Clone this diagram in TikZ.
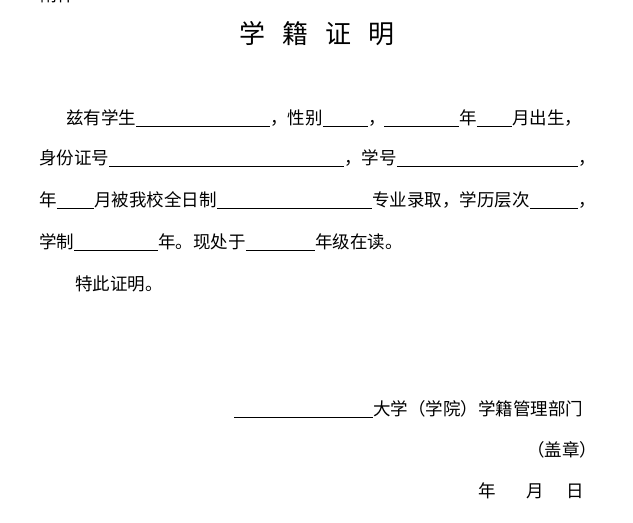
\documentclass[tikz,border=0pt]{standalone}
\usepackage{fontspec}
\newfontfamily\cjk{Noto Sans CJK SC}
\begin{document}
\begin{tikzpicture}[x=1pt,y=-1pt,
  txt/.style={anchor=base west,inner sep=0pt,font=\cjk\fontsize{17.5}{19}\selectfont},
  ul/.style={line width=0.8pt}]
\useasboundingbox (0,0) rectangle (633,523);
\node[txt] (att) at (40,1) {附件};
\node[inner sep=0pt,font=\cjk\fontsize{26}{28}\selectfont] (title) at (317,34) {学\hspace{0.65em}籍\hspace{0.65em}证\hspace{0.65em}明};
% line 1
\node[txt] (a1) at (66,124) {兹有学生};
\node[txt] (a2) at (270,124) {，性别};
\node[txt] (a3) at (368,124) {，};
\node[txt] (a4) at (459,124) {年};
\node[txt] (a5) at (512,124) {月出生，};
\draw[ul] (a1.base east) ++(0,2) -- (a2.base west |- 0,126);
\draw[ul] (a2.base east) ++(0,2) -- (a3.base west |- 0,126);
\draw[ul] (384,126) -- (a4.base west |- 0,126);
\draw[ul] (a4.base east) ++(0,2) -- (a5.base west |- 0,126);
% line 2
\node[txt] (b1) at (39,164) {身份证号};
\node[txt] (b2) at (344,164) {，学号};
\node[txt] (b3) at (578,164) {，};
\draw[ul] (b1.base east) ++(0,2) -- (b2.base west |- 0,166);
\draw[ul] (b2.base east) ++(0,2) -- (b3.base west |- 0,166);
% line 3
\node[txt] (c1) at (39,206) {年};
\node[txt] (c2) at (94,206) {月被我校全日制};
\node[txt] (c3) at (372,206) {专业录取，学历层次};
\node[txt] (c4) at (578,206) {，};
\draw[ul] (c1.base east) ++(0,2) -- (c2.base west |- 0,208);
\draw[ul] (c2.base east) ++(0,2) -- (c3.base west |- 0,208);
\draw[ul] (c3.base east) ++(0,2) -- (c4.base west |- 0,208);
% line 4
\node[txt] (d1) at (39,248) {学制};
\node[txt] (d2) at (158,248) {年。现处于};
\node[txt] (d3) at (315,248) {年级在读。};
\draw[ul] (d1.base east) ++(0,2) -- (d2.base west |- 0,250);
\draw[ul] (d2.base east) ++(0,2) -- (d3.base west |- 0,250);
% line 5
\node[txt] (e1) at (75,290) {特此证明。};
% signature
\node[txt] (s1) at (373,415) {大学（学院）学籍管理部门};
\coordinate (sl) at (234,417);
\draw[ul] (sl) -- (s1.base west |- sl);
\node[txt] (s2) at (527,456) {（盖章）};
\node[txt] (y) at (478,497) {年};
\node[txt] (m) at (526,497) {月};
\node[txt] (d) at (566,497) {日};
\end{tikzpicture}
\end{document}
